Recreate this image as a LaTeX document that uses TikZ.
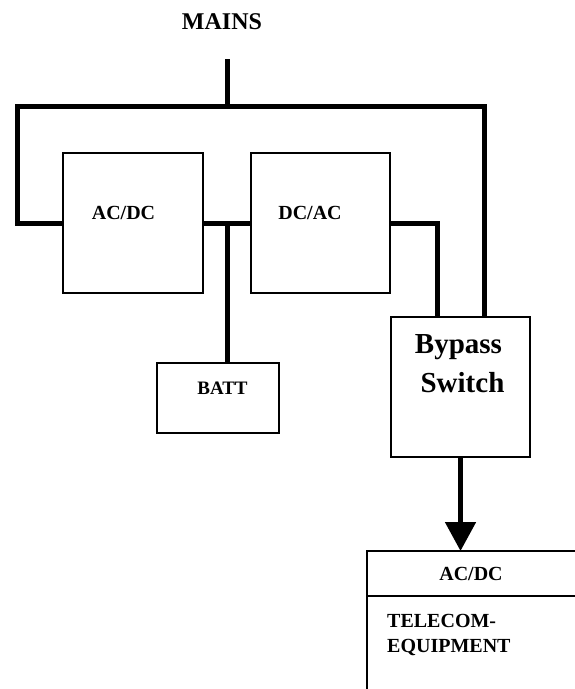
\documentclass[tikz,border=0pt]{standalone}
\usepackage{fontspec}
\setmainfont{Liberation Serif}
\usetikzlibrary{arrows.meta}
\begin{document}
\begin{tikzpicture}[x=1pt,y=-1pt,
  blk/.style={draw=black,line width=1.4pt,fill=none,inner sep=0pt,outer sep=0pt},
  bus/.style={line width=5pt,line join=miter,line cap=butt},
  lbl/.style={inner sep=0pt,anchor=base,font=\bfseries\fontsize{20}{24}\selectfont}]
\useasboundingbox (0,0) rectangle (575,689);
\clip (0,0) rectangle (575,689);
% boxes
\node[blk,minimum width=140pt,minimum height=140pt,anchor=north west] (acdc) at (63,153) {};
\node[blk,minimum width=139pt,minimum height=140pt,anchor=north west] (dcac) at (251,153) {};
\node[blk,minimum width=122pt,minimum height=70pt,anchor=north west] (batt) at (157,363) {};
\node[blk,minimum width=139pt,minimum height=140pt,anchor=north west] (byp) at (391,317) {};
\node[blk,minimum width=260pt,minimum height=200pt,anchor=north west] (tel) at (367,551) {};
\coordinate (divl) at (367,596);
\coordinate (divr) at (600,596);
\draw[line width=1.4pt] (divl) -- (divr);
% texts
\node[lbl,font=\bfseries\fontsize{24}{28}\selectfont] (mainslbl) at (222,29) {MAINS};
\node[lbl] (acdclbl) at (123.5,219) {AC/DC};
\node[lbl] (dcaclbl) at (310,219) {DC/AC};
\node[lbl,font=\bfseries\fontsize{19}{23}\selectfont] (battlbl) at (222.5,394) {BATT};
\node[lbl,font=\bfseries\fontsize{29}{34}\selectfont] (byp1) at (458.5,353) {Bypass};
\node[lbl,font=\bfseries\fontsize{29}{34}\selectfont] (byp2) at (462.5,392) {Switch};
\node[lbl] (telacdc) at (471,580) {AC/DC};
\node[lbl,anchor=base west] (tel1) at (387,627) {TELECOM-};
\node[lbl,anchor=base west] (tel2) at (387,652) {EQUIPMENT};
% bus coordinates
\coordinate (mtop) at (227,59);
\coordinate (mbus) at (227,106);
\coordinate (bl) at (17,106);
\coordinate (br) at (484,106);
\coordinate (bj) at (227,223);
% connectors
\draw[bus] (mtop) -- (mbus);
\draw[bus] (acdc.west |- 0,223) -- (17,223) -- (bl) -- (br) -- (br |- byp.north);
\draw[bus] (acdc.east |- 0,223) -- (dcac.west |- 0,223);
\draw[bus] (bj) -- (bj |- batt.north);
\draw[bus] (dcac.east |- 0,223) -- (437,223) -- (437,0 |- byp.north);
\draw[line width=5pt,-{Triangle[width=30pt,length=29pt]}] (byp.south) -- (byp.south |- tel.north);
\end{tikzpicture}
\end{document}
